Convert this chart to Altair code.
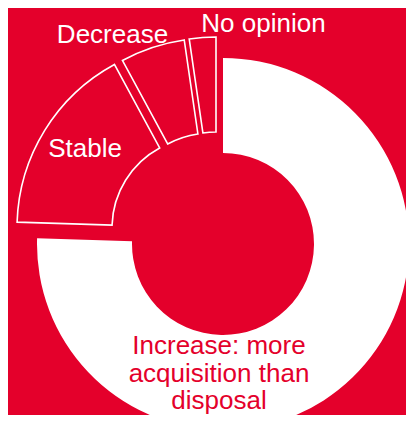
import math
import altair as alt
import pandas as pd

# ---- data ----
categories = ["Increase: more acquisition than disposal", "Stable", "Decrease", "No opinion"]
shares = [75.5, 16.6, 5.6, 2.3]
increase_lines = ["Increase: more", "acquisition than", "disposal"]

df = pd.DataFrame({"category": categories, "share": shares, "order": list(range(len(categories)))})

RED = "#E4002B"
CX, CY = 215, 236          # donut centre inside the plot area
R_OUT, R_IN = 186, 91
total = sum(shares)

base = (
    alt.Chart(df)
    .transform_window(cum="sum(share)", sort=[alt.SortField("order")], frame=[None, 0])
    .transform_calculate(start="datum.cum - datum.share")
)

theta_scale = alt.Scale(domain=[0, total], range=[0, 2 * math.pi])


def slice_layer(cat, fill, dx=0, dy=0, stroke=False):
    props = dict(outerRadius=R_OUT, innerRadius=R_IN, fill=fill, xOffset=dx, yOffset=dy)
    if stroke:
        props.update(stroke="white", strokeWidth=1.6)
    return (
        base.transform_filter(alt.datum.category == cat)
        .mark_arc(**props)
        .encode(
            theta=alt.Theta("start:Q", scale=theta_scale),
            theta2="cum:Q",
            x=alt.value(CX),
            y=alt.value(CY),
        )
    )


def text_layer(cat, color, x, y, lines=None, line_height=29):
    text = alt.value(lines) if lines else alt.Text("category:N")
    return (
        base.transform_filter(alt.datum.category == cat)
        .mark_text(font="Liberation Sans", fontSize=26, fill=color, align="center",
                   baseline="alphabetic", lineHeight=line_height)
        .encode(x=alt.value(x), y=alt.value(y), text=text)
    )


layers = [
    slice_layer(categories[0], "white"),
    slice_layer(categories[1], RED, -20, -16, True),
    slice_layer(categories[2], RED, -12, -20, True),
    slice_layer(categories[3], RED, -7, -21, True),
    text_layer(categories[0], RED, 211, 346, increase_lines, 27.5),
    text_layer(categories[1], "white", 77, 149),
    text_layer(categories[2], "white", 104.5, 35),
    text_layer(categories[3], "white", 255.5, 24),
]

chart = (
    alt.layer(*layers)
    .properties(width=398, height=407, background=RED, padding=0,
                autosize=alt.AutoSizeParams(type="none"))
    .configure_view(stroke=None)
)

chart.save("out.html", embed_options={"renderer": "svg", "actions": False})
